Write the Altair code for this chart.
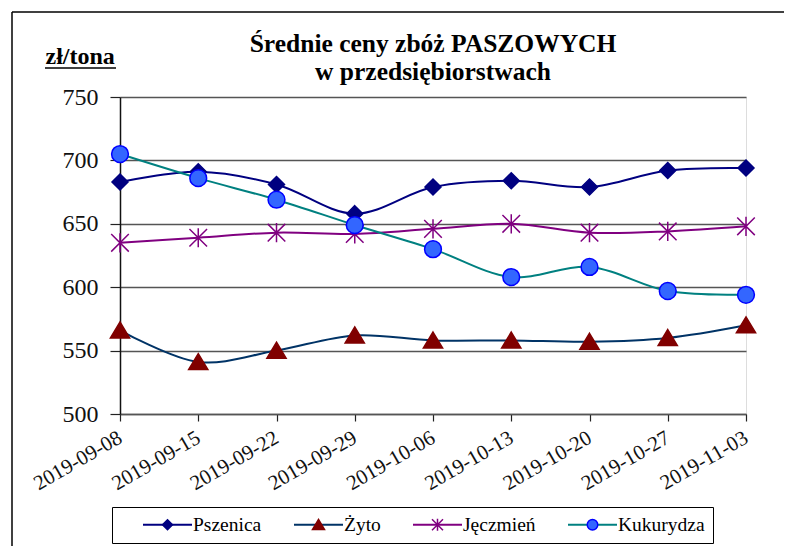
import altair as alt
import pandas as pd

dates = ["2019-09-08", "2019-09-15", "2019-09-22", "2019-09-29", "2019-10-06",
         "2019-10-13", "2019-10-20", "2019-10-27", "2019-11-03"]
series = ["Pszenica", "Żyto", "Jęczmień", "Kukurydza"]
pszenica = [683, 691, 681, 658, 679, 684, 679, 692, 694]
zyto = [566, 541, 550, 562, 558, 558, 557, 560, 570]
jeczmien = [635, 639, 643, 642, 646, 650, 643, 644, 648]
kukurydza = [705, 686, 669, 649, 630, 608, 616, 597, 594]
y_ticks = [500, 550, 600, 650, 700, 750]
title_lines = ["Średnie ceny zbóż PASZOWYCH", "w przedsiębiorstwach"]

line_colors = ["#000080", "#003366", "#800080", "#008080"]
fill_colors = ["#000080", "#800000", "#800080", "#3366FF"]
edge_colors = ["#000080", "#800000", "#800080", "#0000FF"]

# custom marker paths; the leading moves only widen the bounds so that the
# marker legend lays out exactly like the line legend beneath it
B = "M-4.95,0M4.95,0"
shapes = [
    B + "M0,-1L1,0L0,1L-1,0Z",
    B + "M0,-1.05L1.2,0.95L-1.2,0.95Z",
    B + "M-1.1,-1.1L1.1,1.1M-1.1,1.1L1.1,-1.1M0,-1.2L0,1.2",
    B + "M1.05,0A1.05,1.05,0,1,1,-1.05,0A1.05,1.05,0,1,1,1.05,0Z",
]
legend_line_path = "M-4.9,0L4.9,0"

rows = []
for name, vals in zip(series, [pszenica, zyto, jeczmien, kukurydza]):
    for d, v in zip(dates, vals):
        rows.append({"date": d, "value": v, "series": name, "marker": name})
df = pd.DataFrame(rows)

SERIF = "Liberation Serif"

x_enc = alt.X("date:O", sort=dates, scale=alt.Scale(padding=0),
              axis=alt.Axis(title=None, labelAngle=-30, labelAlign="right", labelBaseline="middle",
                            labelFont=SERIF, labelFontSize=21, labelColor="#111",
                            labelPadding=15, tickSize=7, tickColor="#222", tickWidth=1.2,
                            domainColor="#555", domainWidth=1.5, grid=False))
y_enc = alt.Y("value:Q", scale=alt.Scale(domain=[500, 750], nice=False, zero=False),
              axis=alt.Axis(values=y_ticks, title="zł/tona", titleAngle=0, titleAlign="left",
                            titleBaseline="alphabetic", titleX=-75, titleY=-34,
                            titleFont=SERIF, titleFontSize=24, titleFontWeight="bold",
                            titleColor="black",
                            labelFont=SERIF, labelFontSize=24, labelColor="#111",
                            labelPadding=12, tickSize=10, tickColor="#222", tickWidth=1.2,
                            domainColor="#111", domainWidth=1.5,
                            grid=True, gridColor="#555", gridWidth=1.5))

common_leg = dict(title=None, orient="none", legendX=-8, legendY=410, direction="horizontal",
                  symbolSize=100, symbolOffset=37.75, labelOffset=15.75, padding=8,
                  labelFont=SERIF, labelFontSize=19.5, labelColor="black",
                  columnPadding=9, labelLimit=0, gridAlign="none")

leg_line = alt.Legend(symbolType=legend_line_path, symbolStrokeWidth=2, strokeColor="black",
                      fillColor="white", **common_leg)
leg_mark = alt.Legend(symbolStrokeWidth=1.5, labelOpacity=0, symbolFillColor="white",
                      symbolStrokeColor="black", **common_leg)

lines = alt.Chart(df).mark_line(interpolate="catmull-rom", strokeWidth=2).encode(
    x=x_enc, y=y_enc,
    color=alt.Color("series:N", sort=series, scale=alt.Scale(range=line_colors), legend=leg_line),
)

points = alt.Chart(df).mark_point(filled=True, opacity=1, size=256, strokeWidth=1.5).encode(
    x=x_enc, y=y_enc,
    fill=alt.Fill("marker:N", scale=alt.Scale(domain=series, range=fill_colors), legend=leg_mark),
    stroke=alt.Stroke("marker:N", scale=alt.Scale(domain=series, range=edge_colors), legend=leg_mark),
    shape=alt.Shape("marker:N", scale=alt.Scale(domain=series, range=shapes), legend=leg_mark),
)

one = pd.DataFrame({"k": [0]})
underline = alt.Chart(one).mark_rule(color="black", strokeWidth=1.5).encode(
    x=alt.value(-75), x2=alt.value(-4), y=alt.value(-29))
frame_top = alt.Chart(one).mark_rule(color="black", strokeWidth=1.5).encode(
    x=alt.value(-108), x2=alt.value(670), y=alt.value(-85))
frame_left = alt.Chart(one).mark_rule(color="black", strokeWidth=1.5).encode(
    x=alt.value(-108), y=alt.value(-85), y2=alt.value(460))
title_style = dict(font=SERIF, fontSize=25.5, fontWeight="bold", color="black",
                   align="center", baseline="alphabetic")
title1 = alt.Chart(one).mark_text(**title_style).encode(
    x=alt.value(313), y=alt.value(-45), text=alt.value(title_lines[0]))
title2 = alt.Chart(one).mark_text(**title_style).encode(
    x=alt.value(313), y=alt.value(-17), text=alt.value(title_lines[1]))

chart = alt.layer(frame_top, frame_left, underline, title1, title2, lines, points).properties(
    width=626, height=317,
    autosize=alt.AutoSizeParams(type="none"),
    padding={"left": 112, "top": 89, "right": 38, "bottom": 132},
).configure_view(stroke="#555", strokeWidth=1.5).configure(background="white")

chart.save("out.html", embed_options={"renderer": "svg", "actions": False})
